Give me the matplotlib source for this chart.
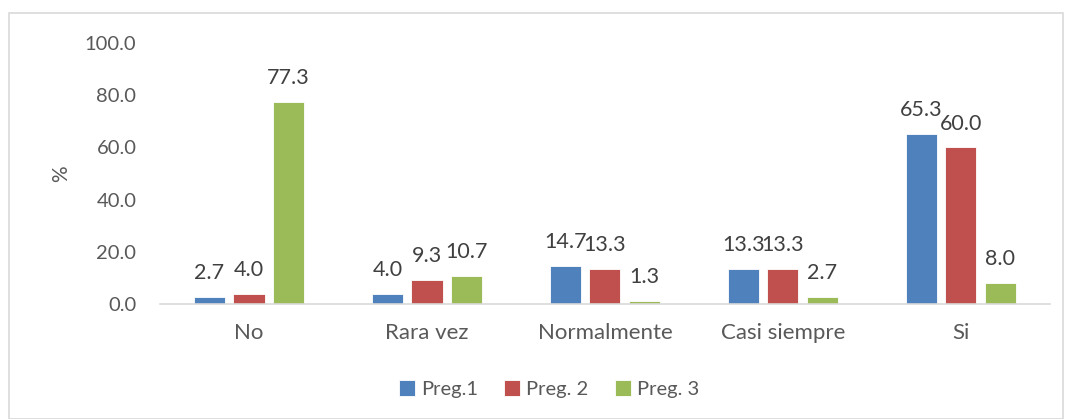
import numpy as np
import matplotlib.pyplot as plt
from matplotlib.patches import Rectangle

categories = ["No", "Rara vez", "Normalmente", "Casi siempre", "Si"]
preg1 = [2.7, 4.0, 14.7, 13.3, 65.3]
preg2 = [4.0, 9.3, 13.3, 13.3, 60.0]
preg3 = [77.3, 10.7, 1.3, 2.7, 8.0]
series_names = ["Preg.1", "Preg. 2", "Preg. 3"]
colors = ["#4F81BD", "#C0504D", "#9BBB59"]
yticks = [0, 20, 40, 60, 80, 100]

text_color = "#595959"
plt.rcParams["font.family"] = ["Lato", "DejaVu Sans"]

fig = plt.figure(figsize=(10.68, 4.19), dpi=100)
ax = fig.add_axes([0.1498, 0.2745, 0.8332, 0.6225])

# outer chart border like in the office chart
fig.patches.append(Rectangle((9 / 1068, 0.0), 1054 / 1068, 406 / 419, transform=fig.transFigure,
                             fill=False, edgecolor="#d9d9d9", linewidth=1.2))

x = np.arange(len(categories))
step = 0.222
width = 0.175
for i, (vals, name, col) in enumerate(zip([preg1, preg2, preg3], series_names, colors)):
    pos = x + (i - 1) * step
    bars = ax.bar(pos, vals, width=width, color=col, label=name, edgecolor="white", linewidth=0.6)
    for b, v in zip(bars, vals):
        ax.annotate(f"{v:.1f}", (b.get_x() + b.get_width() / 2, v), xytext=(0, 10),
                    textcoords="offset points", ha="center", va="bottom",
                    fontsize=15.5, color="#404040")

ax.set_xlim(-0.5, len(categories) - 0.5)
ax.set_ylim(0, 100)
ax.set_yticks(yticks)
ax.set_yticklabels([f"{t:.1f}" for t in yticks])
ax.set_xticks(x)
ax.set_xticklabels(categories)
ax.tick_params(axis="both", length=0, colors=text_color)
ax.tick_params(axis="y", pad=17, labelsize=14.5)
ax.tick_params(axis="x", pad=14, labelsize=16)
for s in ["top", "right", "left"]:
    ax.spines[s].set_visible(False)
ax.spines["bottom"].set_color("#d9d9d9")
ax.spines["bottom"].set_linewidth(1.2)
ax.set_ylabel("%", fontsize=15, color=text_color, labelpad=10)

leg = fig.legend(loc="center", bbox_to_anchor=(0.514, 30 / 419), ncol=3, frameon=False,
                 fontsize=14.5, handlelength=0.8, handleheight=0.8, handletextpad=0.3,
                 columnspacing=1.3)
for t in leg.get_texts():
    t.set_color(text_color)

fig.savefig("out.png", dpi=100)
